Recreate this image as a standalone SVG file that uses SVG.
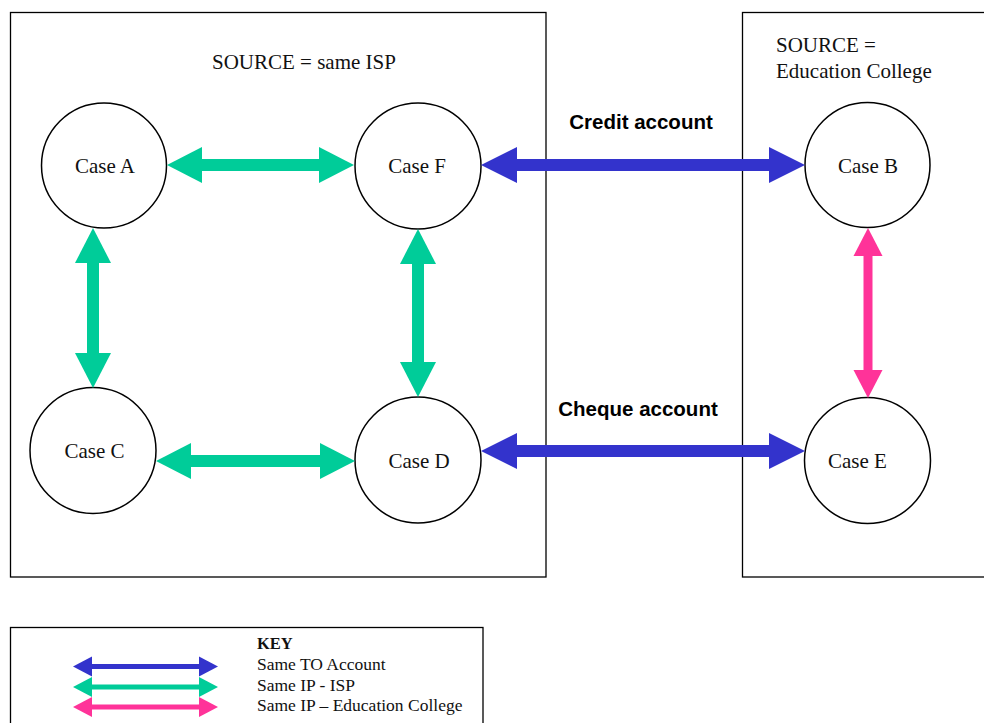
<svg xmlns="http://www.w3.org/2000/svg" width="984" height="723" viewBox="0 0 984 723">
  <style>
    .frame { fill: none; stroke: #000; stroke-width: 1.3; }
    .node circle { fill: #fff; stroke: #000; stroke-width: 1.5; }
    .serif { font-family: "Liberation Serif", "Times New Roman", serif; fill: #111; }
    .case { font-size: 21px; }
    .title { font-size: 21px; }
    .key { font-size: 17.5px; }
    .keyhead { font-size: 16.5px; font-weight: bold; }
    .acct { font-family: "Liberation Sans", Arial, sans-serif; font-weight: bold; font-size: 20.5px; fill: #000; }
    .blue { stroke: #3333CC; }
    .green { stroke: #00CC99; }
    .pink { stroke: #FF3399; }
    .big { stroke-width: 12; fill: none; }
    .mid { stroke-width: 9; fill: none; }
    .small { stroke-width: 5; fill: none; }
  </style>
  <defs>
    <marker id="hBlue" markerUnits="userSpaceOnUse" markerWidth="40" markerHeight="40" viewBox="0 -20 40 40" refX="0" refY="0" orient="auto-start-reverse" overflow="visible">
      <path d="M0,-18 L36,0 L0,18 Z" fill="#3333CC"/>
    </marker>
    <marker id="hGreen" markerUnits="userSpaceOnUse" markerWidth="40" markerHeight="40" viewBox="0 -20 40 40" refX="0" refY="0" orient="auto-start-reverse" overflow="visible">
      <path d="M0,-18 L35,0 L0,18 Z" fill="#00CC99"/>
    </marker>
    <marker id="hPink" markerUnits="userSpaceOnUse" markerWidth="40" markerHeight="40" viewBox="0 -20 40 40" refX="0" refY="0" orient="auto-start-reverse" overflow="visible">
      <path d="M0,-14.5 L28,0 L0,14.5 Z" fill="#FF3399"/>
    </marker>
    <marker id="sBlue" markerUnits="userSpaceOnUse" markerWidth="24" markerHeight="24" viewBox="0 -12 24 24" refX="0" refY="0" orient="auto-start-reverse" overflow="visible">
      <path d="M0,-10 L19,0 L0,10 Z" fill="#3333CC"/>
    </marker>
    <marker id="sGreen" markerUnits="userSpaceOnUse" markerWidth="24" markerHeight="24" viewBox="0 -12 24 24" refX="0" refY="0" orient="auto-start-reverse" overflow="visible">
      <path d="M0,-10 L19,0 L0,10 Z" fill="#00CC99"/>
    </marker>
    <marker id="sPink" markerUnits="userSpaceOnUse" markerWidth="24" markerHeight="24" viewBox="0 -12 24 24" refX="0" refY="0" orient="auto-start-reverse" overflow="visible">
      <path d="M0,-10 L19,0 L0,10 Z" fill="#FF3399"/>
    </marker>
  </defs>

  <rect width="984" height="723" fill="#fff"/>

  <!-- source groupings -->
  <g id="isp-source">
    <rect class="frame" x="10.5" y="12.5" width="535.5" height="564.5"/>
    <text class="serif title" x="212" y="68.5">SOURCE = same ISP</text>
  </g>
  <g id="college-source">
    <rect class="frame" x="742.5" y="12.5" width="260" height="564.5"/>
    <text class="serif title" x="776" y="51.5">SOURCE =</text>
    <text class="serif title" x="776" y="77.5">Education College</text>
  </g>

  <!-- cases -->
  <g id="case-a" class="node">
    <circle cx="104" cy="165.5" r="62.5"/>
    <text class="serif case" x="105" y="172.5" text-anchor="middle">Case A</text>
  </g>
  <g id="case-f" class="node">
    <circle cx="418" cy="166" r="63"/>
    <text class="serif case" x="417" y="172.5" text-anchor="middle">Case F</text>
  </g>
  <g id="case-b" class="node">
    <circle cx="867.5" cy="165" r="62.5"/>
    <text class="serif case" x="868" y="172.5" text-anchor="middle">Case B</text>
  </g>
  <g id="case-c" class="node">
    <circle cx="93" cy="450.5" r="63"/>
    <text class="serif case" x="94.5" y="457.5" text-anchor="middle">Case C</text>
  </g>
  <g id="case-d" class="node">
    <circle cx="418" cy="460" r="63"/>
    <text class="serif case" x="419" y="467.5" text-anchor="middle">Case D</text>
  </g>
  <g id="case-e" class="node">
    <circle cx="867.5" cy="460.5" r="63"/>
    <text class="serif case" x="857.5" y="467.5" text-anchor="middle">Case E</text>
  </g>

  <!-- links between cases -->
  <g id="connectors">
    <line class="green big" x1="202" y1="165" x2="319" y2="165" marker-start="url(#hGreen)" marker-end="url(#hGreen)"/>
    <line class="green big" x1="93" y1="263" x2="93" y2="353" marker-start="url(#hGreen)" marker-end="url(#hGreen)"/>
    <line class="green big" x1="418" y1="264" x2="418" y2="362" marker-start="url(#hGreen)" marker-end="url(#hGreen)"/>
    <line class="green big" x1="191" y1="461" x2="320" y2="461" marker-start="url(#hGreen)" marker-end="url(#hGreen)"/>
    <line class="blue big" x1="517" y1="165" x2="769" y2="165" marker-start="url(#hBlue)" marker-end="url(#hBlue)"/>
    <line class="blue big" x1="517" y1="451" x2="769" y2="451" marker-start="url(#hBlue)" marker-end="url(#hBlue)"/>
    <line class="pink mid" x1="868" y1="256" x2="868" y2="370" marker-start="url(#hPink)" marker-end="url(#hPink)"/>
    <text class="acct" x="641" y="129" text-anchor="middle">Credit account</text>
    <text class="acct" x="638" y="415.5" text-anchor="middle">Cheque account</text>
  </g>

  <!-- legend -->
  <g id="legend">
    <rect class="frame" x="10.5" y="627.5" width="472.5" height="110"/>
    <line class="blue small" x1="92" y1="666.5" x2="199" y2="666.5" marker-start="url(#sBlue)" marker-end="url(#sBlue)"/>
    <line class="green small" x1="92" y1="687" x2="199" y2="687" marker-start="url(#sGreen)" marker-end="url(#sGreen)"/>
    <line class="pink small" x1="92" y1="707" x2="199" y2="707" marker-start="url(#sPink)" marker-end="url(#sPink)"/>
    <text class="serif keyhead" x="257" y="649">KEY</text>
    <text class="serif key" x="257" y="670">Same TO Account</text>
    <text class="serif key" x="257" y="690.5">Same IP - ISP</text>
    <text class="serif key" x="257" y="711">Same IP – Education College</text>
  </g>
</svg>
